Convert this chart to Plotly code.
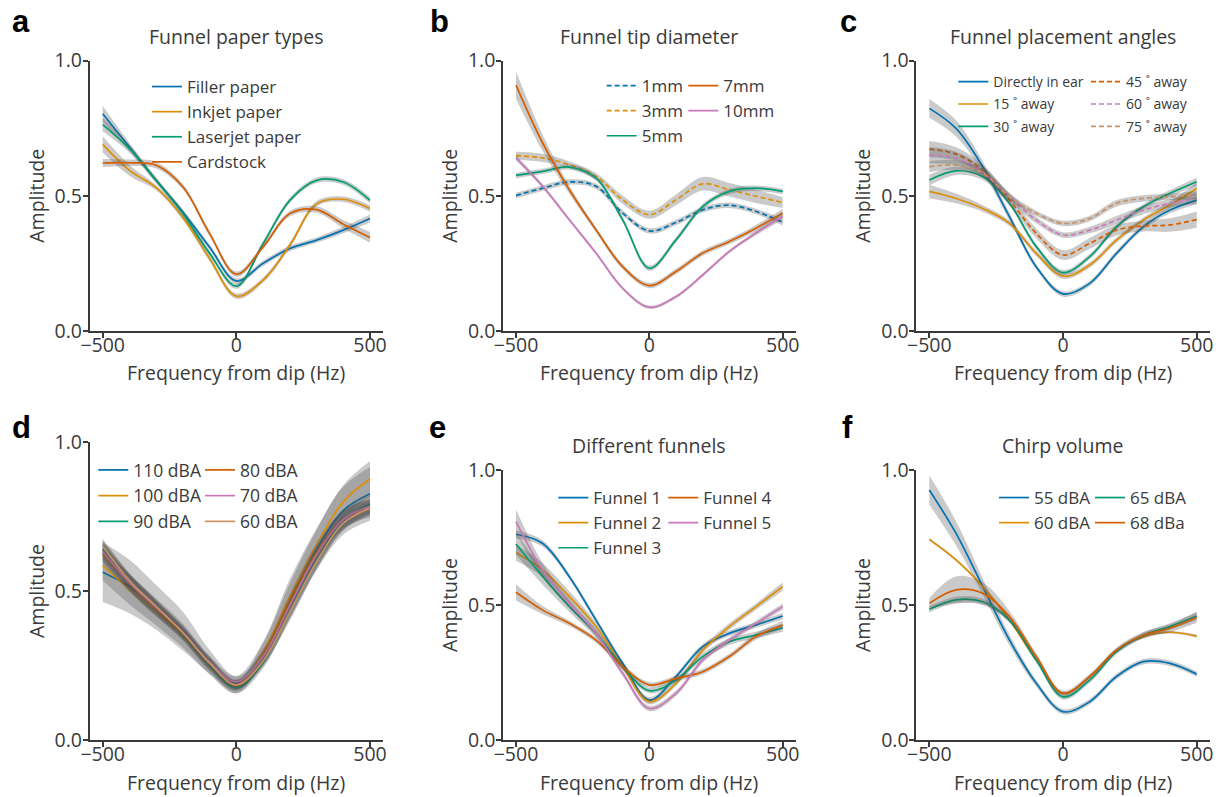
import plotly.graph_objects as go

# ---------------- data ----------------
FREQ = [-500, -400, -300, -200, -100, 0, 100, 200, 300, 400, 500]
X_TICKS = [-500, 0, 500]
X_TICKTEXT = ["\u2212500", "0", "500"]
Y_TICKS = [0.0, 0.5, 1.0]
Y_TICKTEXT = ["0.0", "0.5", "1.0"]
X_TITLE = "Frequency from dip (Hz)"
Y_TITLE = "Amplitude"

# (a) Funnel paper types
A_LABELS = ["Filler paper", "Inkjet paper", "Laserjet paper", "Cardstock"]
A_FILLER = [0.803, 0.680, 0.557, 0.440, 0.310, 0.185, 0.250, 0.305, 0.336, 0.373, 0.416]
A_INKJET = [0.690, 0.594, 0.530, 0.420, 0.268, 0.129, 0.188, 0.317, 0.470, 0.487, 0.453]
A_LASER = [0.763, 0.674, 0.557, 0.434, 0.287, 0.166, 0.323, 0.483, 0.557, 0.551, 0.483]
A_CARD = [0.621, 0.622, 0.613, 0.533, 0.360, 0.210, 0.311, 0.434, 0.449, 0.395, 0.346]
A_ERR_FILLER = [0.030, 0.015, 0.010, 0.010, 0.010, 0.010, 0.010, 0.010, 0.010, 0.012, 0.015]
A_ERR_INKJET = [0.030, 0.020, 0.010, 0.010, 0.010, 0.010, 0.010, 0.010, 0.010, 0.010, 0.012]
A_ERR_LASER = [0.025, 0.015, 0.010, 0.010, 0.010, 0.010, 0.010, 0.010, 0.010, 0.010, 0.012]
A_ERR_CARD = [0.015, 0.012, 0.012, 0.010, 0.010, 0.010, 0.010, 0.010, 0.012, 0.015, 0.020]

# (b) Funnel tip diameter
B_LABELS = ["1mm", "3mm", "5mm", "7mm", "10mm"]
B_1MM = [0.501, 0.528, 0.551, 0.535, 0.436, 0.370, 0.401, 0.448, 0.465, 0.442, 0.402]
B_3MM = [0.648, 0.640, 0.615, 0.572, 0.485, 0.430, 0.485, 0.544, 0.522, 0.498, 0.475]
B_5MM = [0.575, 0.590, 0.606, 0.565, 0.411, 0.232, 0.337, 0.460, 0.516, 0.528, 0.516]
B_7MM = [0.909, 0.695, 0.522, 0.374, 0.238, 0.168, 0.220, 0.288, 0.331, 0.380, 0.436]
B_10MM = [0.640, 0.535, 0.411, 0.288, 0.158, 0.088, 0.127, 0.207, 0.294, 0.362, 0.423]
B_ERR_1MM = [0.010, 0.010, 0.010, 0.010, 0.010, 0.010, 0.010, 0.010, 0.010, 0.010, 0.012]
B_ERR_3MM = [0.015, 0.015, 0.012, 0.012, 0.015, 0.015, 0.020, 0.025, 0.025, 0.025, 0.020]
B_ERR_5MM = [0.010, 0.010, 0.010, 0.010, 0.010, 0.010, 0.010, 0.010, 0.010, 0.010, 0.010]
B_ERR_7MM = [0.050, 0.030, 0.015, 0.010, 0.010, 0.010, 0.010, 0.010, 0.010, 0.012, 0.015]
B_ERR_10MM = [0.010, 0.008, 0.006, 0.006, 0.006, 0.006, 0.006, 0.006, 0.006, 0.008, 0.012]

# (c) Funnel placement angles
C_LABELS = ["Directly in ear", "15 \u02da away", "30 \u02da away",
            "45 \u02da away", "60 \u02da away", "75 \u02da away"]
C_DIRECT = [0.823, 0.749, 0.607, 0.422, 0.237, 0.137, 0.176, 0.287, 0.385, 0.447, 0.484]
C_15 = [0.516, 0.490, 0.453, 0.398, 0.287, 0.203, 0.244, 0.336, 0.410, 0.466, 0.527]
C_30 = [0.558, 0.592, 0.570, 0.472, 0.312, 0.216, 0.275, 0.385, 0.459, 0.509, 0.552]
C_45 = [0.672, 0.654, 0.595, 0.484, 0.361, 0.281, 0.324, 0.373, 0.388, 0.392, 0.412]
C_60 = [0.650, 0.638, 0.589, 0.496, 0.410, 0.355, 0.373, 0.410, 0.447, 0.472, 0.490]
C_75 = [0.607, 0.613, 0.583, 0.496, 0.435, 0.398, 0.416, 0.472, 0.490, 0.496, 0.502]
C_ERR_DIRECT = [0.035, 0.030, 0.020, 0.015, 0.010, 0.010, 0.010, 0.010, 0.010, 0.012, 0.015]
C_ERR_15 = [0.025, 0.018, 0.012, 0.010, 0.010, 0.010, 0.010, 0.010, 0.010, 0.012, 0.020]
C_ERR_30 = [0.020, 0.015, 0.012, 0.010, 0.010, 0.010, 0.010, 0.010, 0.010, 0.012, 0.015]
C_ERR_45 = [0.030, 0.025, 0.020, 0.018, 0.018, 0.018, 0.020, 0.020, 0.020, 0.025, 0.030]
C_ERR_60 = [0.030, 0.025, 0.018, 0.015, 0.012, 0.010, 0.012, 0.015, 0.015, 0.015, 0.020]
C_ERR_75 = [0.020, 0.018, 0.015, 0.012, 0.010, 0.010, 0.010, 0.012, 0.012, 0.012, 0.015]

# (d) Different volumes
D_LABELS = ["110 dBA", "100 dBA", "90 dBA", "80 dBA", "70 dBA", "60 dBA"]
D_110 = [0.563, 0.515, 0.445, 0.365, 0.262, 0.190, 0.290, 0.470, 0.640, 0.770, 0.826]
D_100 = [0.586, 0.505, 0.430, 0.350, 0.250, 0.178, 0.295, 0.480, 0.655, 0.800, 0.876]
D_90 = [0.640, 0.530, 0.440, 0.355, 0.250, 0.175, 0.260, 0.435, 0.605, 0.735, 0.792]
D_80 = [0.624, 0.525, 0.440, 0.358, 0.256, 0.185, 0.285, 0.465, 0.630, 0.740, 0.778]
D_70 = [0.633, 0.528, 0.445, 0.362, 0.262, 0.195, 0.280, 0.450, 0.620, 0.740, 0.784]
D_60 = [0.650, 0.535, 0.448, 0.360, 0.258, 0.185, 0.265, 0.430, 0.598, 0.728, 0.778]
D_ERR_110 = [0.100, 0.090, 0.075, 0.065, 0.040, 0.025, 0.040, 0.070, 0.070, 0.080, 0.090]
D_ERR_100 = [0.050, 0.050, 0.045, 0.040, 0.030, 0.022, 0.030, 0.045, 0.050, 0.055, 0.060]
D_ERR_90 = [0.030, 0.028, 0.025, 0.022, 0.020, 0.018, 0.020, 0.025, 0.030, 0.030, 0.030]
D_ERR_80 = [0.030, 0.028, 0.025, 0.022, 0.020, 0.018, 0.020, 0.025, 0.030, 0.030, 0.030]
D_ERR_70 = [0.030, 0.028, 0.025, 0.022, 0.020, 0.018, 0.020, 0.025, 0.030, 0.030, 0.025]
D_ERR_60 = [0.025, 0.025, 0.022, 0.020, 0.018, 0.015, 0.018, 0.022, 0.025, 0.025, 0.025]

# (e) Different funnels
E_LABELS = ["Funnel 1", "Funnel 2", "Funnel 3", "Funnel 4", "Funnel 5"]
E_F1 = [0.762, 0.728, 0.605, 0.444, 0.284, 0.148, 0.235, 0.346, 0.395, 0.426, 0.459]
E_F2 = [0.694, 0.630, 0.531, 0.420, 0.272, 0.142, 0.210, 0.333, 0.420, 0.494, 0.568]
E_F3 = [0.726, 0.605, 0.494, 0.395, 0.272, 0.183, 0.222, 0.309, 0.364, 0.389, 0.416]
E_F4 = [0.547, 0.481, 0.432, 0.370, 0.272, 0.204, 0.228, 0.253, 0.309, 0.383, 0.426]
E_F5 = [0.809, 0.630, 0.506, 0.395, 0.247, 0.117, 0.173, 0.296, 0.370, 0.432, 0.494]
E_ERR_F1 = [0.015, 0.012, 0.010, 0.010, 0.010, 0.010, 0.010, 0.010, 0.010, 0.010, 0.012]
E_ERR_F2 = [0.030, 0.025, 0.020, 0.015, 0.012, 0.010, 0.010, 0.012, 0.012, 0.012, 0.015]
E_ERR_F3 = [0.040, 0.030, 0.020, 0.015, 0.012, 0.010, 0.010, 0.012, 0.012, 0.012, 0.015]
E_ERR_F4 = [0.030, 0.015, 0.010, 0.010, 0.010, 0.010, 0.010, 0.010, 0.010, 0.012, 0.015]
E_ERR_F5 = [0.045, 0.025, 0.015, 0.012, 0.010, 0.010, 0.010, 0.010, 0.010, 0.010, 0.012]

# (f) Chirp volume
F_LABELS = ["55 dBA", "60 dBA", "65 dBA", "68 dBa"]
F_55 = [0.926, 0.765, 0.568, 0.370, 0.210, 0.105, 0.142, 0.235, 0.290, 0.284, 0.244]
F_60 = [0.743, 0.667, 0.568, 0.444, 0.296, 0.173, 0.235, 0.333, 0.383, 0.399, 0.385]
F_65 = [0.484, 0.519, 0.512, 0.444, 0.296, 0.160, 0.222, 0.327, 0.388, 0.420, 0.459]
F_68 = [0.506, 0.556, 0.543, 0.457, 0.309, 0.173, 0.235, 0.333, 0.388, 0.414, 0.454]
F_ERR_55 = [0.055, 0.045, 0.030, 0.020, 0.012, 0.010, 0.010, 0.010, 0.010, 0.010, 0.010]
F_ERR_60 = [0.005, 0.005, 0.005, 0.005, 0.005, 0.005, 0.005, 0.005, 0.005, 0.005, 0.006]
F_ERR_65 = [0.012, 0.012, 0.012, 0.010, 0.010, 0.010, 0.010, 0.010, 0.010, 0.012, 0.015]
F_ERR_68 = [0.020, 0.050, 0.040, 0.020, 0.012, 0.010, 0.010, 0.010, 0.012, 0.015, 0.020]

# ---------------- style ----------------
BLUE, ORANGE, GREEN, RED, PINK, TAN = "#0173B2", "#DE8F05", "#029E73", "#D55E00", "#CC78BC", "#CA9161"
INK = "#3a3a3a"
BAND = "rgba(80,80,80,0.3)"
FONT = "Open Sans"
AX_FONT = 19.5
W, H = 1219, 797


def px_x(p):
    return p / W


def px_y(p):
    return 1 - p / H


# panel geometry in pixels: (x at -500, x at 500, y top(1.0), y bottom(0.0))
GEOM = {
    1: (102.7, 370.0, 60.5, 331.0),
    2: (516.0, 782.7, 60.5, 331.0),
    3: (929.3, 1196.7, 60.5, 331.0),
    4: (102.7, 370.0, 442.0, 740.0),
    5: (516.0, 782.7, 470.0, 740.0),
    6: (929.3, 1196.7, 470.0, 740.0),
}
XR = (-548, 550)

PANELS = [
    dict(letter="a", title="Funnel paper types", legsize=17, gap=0,
         series=[(A_LABELS[0], A_FILLER, A_ERR_FILLER, BLUE, "solid"),
                 (A_LABELS[1], A_INKJET, A_ERR_INKJET, ORANGE, "solid"),
                 (A_LABELS[2], A_LASER, A_ERR_LASER, GREEN, "solid"),
                 (A_LABELS[3], A_CARD, A_ERR_CARD, RED, "solid")],
         cols=[(187, 84, [0, 1, 2, 3])]),
    dict(letter="b", title="Funnel tip diameter", legsize=17, gap=0,
         series=[(B_LABELS[0], B_1MM, B_ERR_1MM, BLUE, "5px,3px"),
                 (B_LABELS[1], B_3MM, B_ERR_3MM, ORANGE, "5px,3px"),
                 (B_LABELS[2], B_5MM, B_ERR_5MM, GREEN, "solid"),
                 (B_LABELS[3], B_7MM, B_ERR_7MM, RED, "solid"),
                 (B_LABELS[4], B_10MM, B_ERR_10MM, PINK, "solid")],
         cols=[(641.7, 83, [0, 1, 2]), (723.3, 83, [3, 4])]),
    dict(letter="c", title="Funnel placement angles", legsize=14, gap=1.2,
         series=[(C_LABELS[0], C_DIRECT, C_ERR_DIRECT, BLUE, "solid"),
                 (C_LABELS[1], C_15, C_ERR_15, ORANGE, "solid"),
                 (C_LABELS[2], C_30, C_ERR_30, GREEN, "solid"),
                 (C_LABELS[3], C_45, C_ERR_45, RED, "5px,3px"),
                 (C_LABELS[4], C_60, C_ERR_60, PINK, "5px,3px"),
                 (C_LABELS[5], C_75, C_ERR_75, TAN, "5px,3px")],
         cols=[(993.3, 81, [0, 1, 2]), (1126.0, 81, [3, 4, 5])]),
    dict(letter="d", title=None, legsize=17.5, gap=0,
         series=[(D_LABELS[0], D_110, D_ERR_110, BLUE, "solid"),
                 (D_LABELS[1], D_100, D_ERR_100, ORANGE, "solid"),
                 (D_LABELS[2], D_90, D_ERR_90, GREEN, "solid"),
                 (D_LABELS[3], D_80, D_ERR_80, RED, "solid"),
                 (D_LABELS[4], D_70, D_ERR_70, PINK, "solid"),
                 (D_LABELS[5], D_60, D_ERR_60, TAN, "solid")],
         cols=[(133.3, 467, [0, 1, 2]), (240.0, 467, [3, 4, 5])]),
    dict(letter="e", title="Different funnels", legsize=17, gap=0,
         series=[(E_LABELS[0], E_F1, E_ERR_F1, BLUE, "solid"),
                 (E_LABELS[1], E_F2, E_ERR_F2, ORANGE, "solid"),
                 (E_LABELS[2], E_F3, E_ERR_F3, GREEN, "solid"),
                 (E_LABELS[3], E_F4, E_ERR_F4, RED, "solid"),
                 (E_LABELS[4], E_F5, E_ERR_F5, PINK, "solid")],
         cols=[(593.3, 495, [0, 1, 2]), (703.3, 495, [3, 4])]),
    dict(letter="f", title="Chirp volume", legsize=17, gap=0,
         series=[(F_LABELS[0], F_55, F_ERR_55, BLUE, "solid"),
                 (F_LABELS[1], F_60, F_ERR_60, ORANGE, "solid"),
                 (F_LABELS[2], F_65, F_ERR_65, GREEN, "solid"),
                 (F_LABELS[3], F_68, F_ERR_68, RED, "solid")],
         cols=[(1034.0, 495, [0, 1]), (1130.0, 495, [2, 3])]),
]

fig = go.Figure()
layout = dict(width=W, height=H, margin=dict(l=0, r=0, t=0, b=0, autoexpand=False),
              paper_bgcolor="white", plot_bgcolor="white",
              font=dict(family=FONT, color=INK, size=AX_FONT),
              annotations=[])

legend_idx = 0
for i, p in enumerate(PANELS, start=1):
    sfx = "" if i == 1 else str(i)
    xname, yname = "x" + sfx, "y" + sfx
    x0, x1, yt, yb = GEOM[i]
    s = (x1 - x0) / 1000.0
    left = x0 + (XR[0] + 500) * s
    right = x1 + (XR[1] - 500) * s
    layout["xaxis" + sfx] = dict(
        domain=[px_x(left), px_x(right)], range=list(XR), anchor=yname, automargin=False,
        showline=True, linecolor=INK, linewidth=2, ticks="outside", ticklen=5,
        tickwidth=1.5, tickcolor=INK, tickvals=X_TICKS, ticktext=X_TICKTEXT,
        ticklabelstandoff=-9,
        showgrid=False, zeroline=False, tickfont=dict(size=AX_FONT, color=INK))
    layout["yaxis" + sfx] = dict(
        domain=[px_y(yb), px_y(yt)], range=[0, 1], anchor=xname, automargin=False,
        showline=True, linecolor=INK, linewidth=2, ticks="outside", ticklen=5,
        tickwidth=1.5, tickcolor=INK, tickvals=Y_TICKS, ticktext=Y_TICKTEXT,
        ticklabelstandoff=-3,
        showgrid=False, zeroline=False, tickfont=dict(size=AX_FONT, color=INK),
        title=dict(text=Y_TITLE, font=dict(size=AX_FONT, color=INK), standoff=5))

    # x-axis title as annotation centred under the axis
    layout["annotations"].append(dict(
        text=X_TITLE, xref=xname, yref="paper", x=0, y=px_y(yb + 42),
        xanchor="center", yanchor="middle", showarrow=False,
        font=dict(family=FONT, size=AX_FONT, color=INK)))

    # legends: one per column
    col_legend = {}
    for (tx, ty, idxs) in p["cols"]:
        legend_idx += 1
        lname = "legend" if legend_idx == 1 else "legend%d" % legend_idx
        layout[lname] = dict(
            x=px_x(tx - 40), y=px_y(ty - 15), xanchor="left", yanchor="top",
            bgcolor="rgba(0,0,0,0)", borderwidth=0, itemwidth=30,
            font=dict(family=FONT, size=p["legsize"], color=INK),
            traceorder="grouped", tracegroupgap=p["gap"])
        for k in idxs:
            col_legend[k] = lname

    # each series: confidence band, then its mean line
    for k, (name, vals, err, color, dash) in enumerate(p["series"]):
        up = [v + e for v, e in zip(vals, err)]
        lo = [v - e for v, e in zip(vals, err)]
        fig.add_trace(go.Scatter(x=FREQ, y=up, xaxis=xname, yaxis=yname, mode="lines",
                                 line=dict(width=0, shape="spline", color="rgba(0,0,0,0)"),
                                 showlegend=False, hoverinfo="skip"))
        fig.add_trace(go.Scatter(x=FREQ, y=lo, xaxis=xname, yaxis=yname, mode="lines",
                                 line=dict(width=0, shape="spline", color="rgba(0,0,0,0)"),
                                 fill="tonexty", fillcolor=BAND,
                                 showlegend=False, hoverinfo="skip"))
        fig.add_trace(go.Scatter(x=FREQ, y=vals, xaxis=xname, yaxis=yname, mode="lines",
                                 name=name, legend=col_legend[k], legendgroup="g%d_%d" % (i, k),
                                 line=dict(color=color, width=1.7, shape="spline", dash=dash)))

    # title and panel letter
    if p["title"]:
        layout["annotations"].append(dict(
            text=p["title"], xref=xname, yref="paper", x=0, y=px_y(yt - 24),
            xanchor="center", yanchor="middle", showarrow=False,
            font=dict(family=FONT, size=AX_FONT, color=INK)))
    lx = {1: 10, 2: 428, 3: 838, 4: 10, 5: 427, 6: 840}[i]
    ly = 21 if i <= 3 else 427
    layout["annotations"].append(dict(
        text="<b>%s</b>" % p["letter"], xref="paper", yref="paper",
        x=px_x(lx), y=px_y(ly), xanchor="left", yanchor="middle", showarrow=False,
        font=dict(family="Liberation Sans", size=31, color="black")))

fig.update_layout(**layout)
fig.write_html("out.html")
